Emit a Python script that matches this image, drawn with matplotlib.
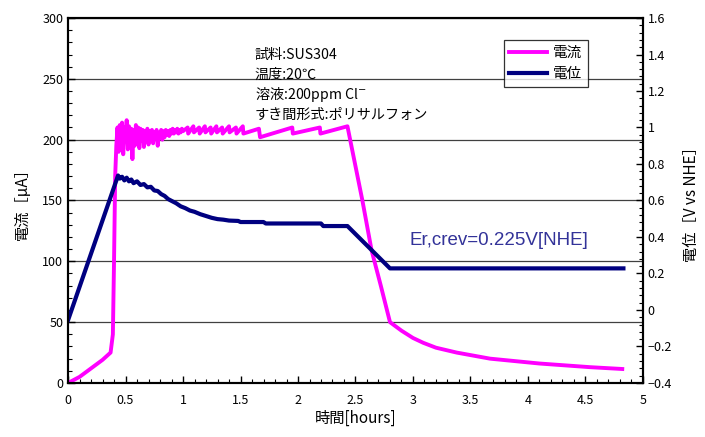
import matplotlib
matplotlib.use("Agg")
import matplotlib.pyplot as plt
from matplotlib.ticker import MultipleLocator, FuncFormatter

plt.rcParams["font.family"] = ["Noto Sans CJK JP", "DejaVu Sans"]

# ── 電流 (µA) ──
cur_t = [0.00, 0.10, 0.20, 0.30, 0.37, 0.39, 0.40, 0.41,
         0.42, 0.43, 0.44, 0.45, 0.46, 0.47, 0.48, 0.49, 0.50, 0.51,
         0.52, 0.53, 0.54, 0.55, 0.56, 0.57, 0.58, 0.59, 0.60, 0.61,
         0.62, 0.63, 0.64, 0.65, 0.66, 0.67, 0.68, 0.69, 0.70, 0.71,
         0.72, 0.73, 0.74, 0.75, 0.76, 0.77, 0.78, 0.79, 0.80, 0.81,
         0.82, 0.83, 0.84, 0.85, 0.86, 0.87, 0.88, 0.89, 0.90, 0.91,
         0.92, 0.93, 0.94, 0.95, 0.96, 0.97, 0.98, 0.99, 1.00,
         1.04, 1.045, 1.09, 1.095, 1.14, 1.145, 1.19, 1.195, 1.24, 1.245,
         1.29, 1.295, 1.34, 1.345, 1.40, 1.405, 1.46, 1.465, 1.52, 1.525,
         1.66, 1.67, 1.95, 1.955, 2.19, 2.195, 2.43,
         2.56, 2.64, 2.72, 2.80, 2.90, 3.00, 3.09, 3.20, 3.38, 3.67,
         4.10, 4.54, 4.82]
cur_v = [0, 5, 12, 19, 25, 40, 100, 170,
         195, 210, 190, 212, 196, 214, 188, 210, 200, 216,
         192, 211, 197, 209, 184, 208, 195, 212, 198, 210,
         193, 209, 199, 208, 194, 207, 200, 209, 196, 207,
         201, 208, 197, 206, 202, 208, 195, 205, 203, 208,
         200, 207, 202, 208, 204, 207, 203, 208, 205, 209,
         205, 208, 206, 209, 205, 208, 206, 209, 207,
         210, 205, 211, 206, 210, 205, 211, 206, 210, 205,
         211, 206, 210, 205, 211, 206, 210, 205, 211, 205,
         209, 202, 210, 205, 210, 205, 211,
         150, 109, 80, 50, 43, 37, 33, 29, 25, 20,
         16, 13, 11.5]

# ── 電位 (V vs NHE) ──
pot_t = [0.00, 0.435, 0.45, 0.47, 0.49, 0.51, 0.53, 0.55, 0.57, 0.60,
         0.63, 0.66, 0.69, 0.72, 0.75, 0.78, 0.81, 0.84, 0.87, 0.90,
         0.94, 0.98, 1.02, 1.06, 1.10, 1.15, 1.20, 1.25, 1.30, 1.35,
         1.40, 1.48, 1.50, 1.70, 1.72, 2.20, 2.22, 2.43, 2.80, 4.83]
pot_v = [-0.056, 0.737, 0.72, 0.73, 0.71, 0.725, 0.705, 0.715, 0.695, 0.705,
         0.685, 0.69, 0.672, 0.675, 0.655, 0.652, 0.635, 0.625, 0.608, 0.598,
         0.585, 0.568, 0.558, 0.545, 0.538, 0.525, 0.515, 0.505, 0.498, 0.495,
         0.49, 0.488, 0.482, 0.482, 0.474, 0.474, 0.46, 0.46, 0.228, 0.228]

info_lines = ["試料:SUS304", "温度:20℃", r"溶液:200ppm Cl$^{-}$", "すき間形式:ポリサルフォン"]


def fmt(v, pos):
    return ("%g" % round(v, 3)).replace("-", "\u2212")


fig = plt.figure(figsize=(7.05, 4.37), dpi=100)
ax = fig.add_axes([0.0965, 0.1236, 0.8155, 0.8352])
ax2 = ax.twinx()

l1, = ax.plot(cur_t, cur_v, color="#FF00FF", linewidth=2.8, label="電流")
l2, = ax2.plot(pot_t, pot_v, color="#000080", linewidth=3.0, label="電位")

ax.set_xlim(0, 5)
ax.set_ylim(0, 300)
ax2.set_ylim(-0.4, 1.6)

ax.xaxis.set_major_locator(MultipleLocator(0.5))
ax.xaxis.set_minor_locator(MultipleLocator(0.1))
ax.yaxis.set_major_locator(MultipleLocator(50))
ax.yaxis.set_minor_locator(MultipleLocator(10))
ax2.yaxis.set_major_locator(MultipleLocator(0.2))
ax2.yaxis.set_minor_locator(MultipleLocator(0.04))
ax.xaxis.set_major_formatter(FuncFormatter(fmt))
ax2.yaxis.set_major_formatter(FuncFormatter(fmt))

for a in (ax, ax2):
    a.tick_params(which="major", direction="in", length=5, width=1, labelsize=9)
    a.tick_params(which="minor", direction="in", length=3, width=0.8)
    for s in a.spines.values():
        s.set_linewidth(1.5)
ax.tick_params(axis="x", pad=8)

ax.grid(True, axis="y", which="major", color="#404040", linewidth=0.9)
ax.set_axisbelow(True)

ax.set_xlabel("時間[hours]", fontsize=11, labelpad=2)
ax.set_ylabel("電流［μA］", fontsize=11, labelpad=8)
ax2.set_ylabel("電位［V vs NHE］", fontsize=11, labelpad=8)

for i, line in enumerate(info_lines):
    ax.text(0.325, 0.90 - i * 0.055, line, transform=ax.transAxes,
            fontsize=10.2, va="center", ha="left")

ax.text(2.97, 117, "Er,crev=0.225V[NHE]", fontsize=13.5, color="#333399",
        family=["Liberation Sans", "DejaVu Sans"], va="center")

leg = ax.legend([l1, l2], ["電流", "電位"], loc="upper left",
                bbox_to_anchor=(0.745, 0.96), frameon=True, fancybox=False,
                edgecolor="black", fontsize=10.5, handlelength=2.6,
                borderpad=0.4, labelspacing=0.5, handletextpad=0.4)
leg.get_frame().set_linewidth(0.9)
leg.set_zorder(10)

fig.savefig("out.png", dpi=100)
